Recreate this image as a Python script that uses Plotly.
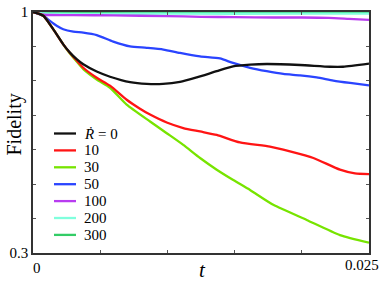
import plotly.graph_objects as go

# ---- data ----
t_black = [0, 0.00077, 0.00126, 0.00176, 0.00225, 0.00275, 0.00325, 0.00374, 0.00474, 0.00573,
           0.00722, 0.00846, 0.00967, 0.01094, 0.01218, 0.01367, 0.01488, 0.01615, 0.01739,
           0.01987, 0.0221, 0.02307, 0.025]
f_black = [1.0, 0.989, 0.964, 0.935, 0.906, 0.882, 0.863, 0.848, 0.827, 0.812,
           0.796, 0.791, 0.791, 0.797, 0.810, 0.828, 0.842, 0.847, 0.849,
           0.846, 0.841, 0.841, 0.850]

t_red = [0, 0.00077, 0.00126, 0.00176, 0.00225, 0.00275, 0.00325, 0.00374, 0.00474, 0.00573,
         0.00697, 0.00796, 0.00871, 0.00995, 0.01118, 0.01243, 0.01367, 0.0154, 0.01763,
         0.01912, 0.02086, 0.02284, 0.02396, 0.025]
f_red = [1.0, 0.989, 0.964, 0.935, 0.906, 0.881, 0.859, 0.838, 0.809, 0.786,
         0.745, 0.719, 0.702, 0.679, 0.663, 0.653, 0.643, 0.621, 0.609,
         0.595, 0.576, 0.542, 0.531, 0.529]

t_lime = [0, 0.00077, 0.00126, 0.00176, 0.00225, 0.00275, 0.00325, 0.00374, 0.00474, 0.00573,
          0.00697, 0.00871, 0.00995, 0.01118, 0.01243, 0.01367, 0.0149, 0.01615, 0.01788,
          0.02036, 0.02284, 0.025]
f_lime = [1.0, 0.989, 0.964, 0.935, 0.906, 0.879, 0.856, 0.834, 0.804, 0.780,
          0.731, 0.682, 0.648, 0.614, 0.576, 0.542, 0.512, 0.483, 0.440,
          0.396, 0.352, 0.330]

t_blue = [0, 0.00077, 0.00126, 0.00176, 0.00225, 0.003, 0.00374, 0.00474, 0.00597, 0.00722,
          0.00846, 0.0097, 0.01094, 0.01243, 0.01391, 0.01488, 0.01615, 0.01739, 0.01862,
          0.01987, 0.02111, 0.02234, 0.02359, 0.025]
f_blue = [1.0, 0.989, 0.974, 0.960, 0.950, 0.943, 0.940, 0.933, 0.914, 0.900,
          0.896, 0.891, 0.881, 0.871, 0.865, 0.852, 0.838, 0.828, 0.820,
          0.816, 0.810, 0.801, 0.794, 0.787]

t_purple = [0, 0.0008, 0.003, 0.006, 0.01, 0.0125, 0.015, 0.018, 0.02, 0.022, 0.0235, 0.025]
f_purple = [1.0, 0.992, 0.991, 0.990, 0.988, 0.986, 0.985, 0.984, 0.984, 0.983, 0.980, 0.977]

t_cyan = [0, 0.0008, 0.01, 0.02, 0.025]
f_cyan = [1.0, 0.996, 0.995, 0.995, 0.995]

t_green = [0, 0.0008, 0.01, 0.02, 0.025]
f_green = [1.0, 0.999, 0.999, 0.999, 0.999]

series_names = ["<i>Ṙ</i> = 0", "10", "30", "50", "100", "200", "300"]
series_colors = ["#111111", "#ff1414", "#77e400", "#2a44ff", "#b83cf0", "#80ffdd", "#33cc66"]

NB = "\u00a0"
x_tickvals = [0, 0.005, 0.01, 0.015, 0.02, 0.025]
x_ticktext = [NB * 2 + "0", "", "", "", "", ""]
x_end_label = "0.025"
y_tickvals = [0.3, 0.4, 0.5, 0.6, 0.7, 0.8, 0.9, 1.0]
y_ticktext = ["0.3", "", "", "", "", "", "", "1"]

x_title = "<i>t</i>"
y_title = "Fidelity"

series_t = [t_black, t_red, t_lime, t_blue, t_purple, t_cyan, t_green]
series_f = [f_black, f_red, f_lime, f_blue, f_purple, f_cyan, f_green]

W, H = 382, 287
ML, MR, MT, MB = 33, 13, 12, 34
PW, PH = W - ML - MR, H - MT - MB

def px_to_paper_x(px):
    return (px - ML) / PW

def px_to_paper_y(py):
    return (H - MB - py) / PH

fig = go.Figure()
order = [6, 5, 4, 3, 2, 1, 0]
for i in order:
    fig.add_trace(go.Scatter(
        x=series_t[i], y=series_f[i], mode="lines", name=series_names[i],
        line=dict(color=series_colors[i], width=2.3, shape="spline", smoothing=0.6),
        showlegend=False,
    ))

font_family = "Liberation Serif, Times New Roman, serif"

# manual legend (sample lines + labels)
shapes = []
annotations = []
for i, (name, col) in enumerate(zip(series_names, series_colors)):
    yy = px_to_paper_y(133.5 + 16.9 * i)
    shapes.append(dict(type="line", xref="paper", yref="paper",
                       x0=px_to_paper_x(54), x1=px_to_paper_x(76), y0=yy, y1=yy,
                       line=dict(color=col, width=2.3)))
    annotations.append(dict(text=name, xref="paper", yref="paper",
                            x=px_to_paper_x(82), y=yy, xanchor="left", yanchor="middle",
                            showarrow=False, font=dict(family=font_family, size=15, color="black")))

annotations.append(dict(text=y_title, xref="paper", yref="paper",
                        x=px_to_paper_x(13.5), y=px_to_paper_y(125), textangle=-90,
                        xanchor="center", yanchor="middle", showarrow=False,
                        font=dict(family=font_family, size=20, color="black")))
annotations.append(dict(text=x_title, xref="paper", yref="paper",
                        x=px_to_paper_x(202), y=px_to_paper_y(270),
                        xanchor="center", yanchor="middle", showarrow=False,
                        font=dict(family=font_family, size=21, color="black")))
# last x tick label, right-aligned so it stays inside the figure
annotations.append(dict(text=x_end_label, xref="x", yref="paper",
                        x=x_tickvals[-1], y=0, xanchor="right", yanchor="top",
                        xshift=12, yshift=-2, showarrow=False,
                        font=dict(family=font_family, size=15, color="black")))

fig.update_layout(
    width=W, height=H,
    margin=dict(l=ML, r=MR, t=MT, b=MB),
    paper_bgcolor="white", plot_bgcolor="white",
    font=dict(family=font_family, size=15, color="black"),
    showlegend=False,
    shapes=shapes, annotations=annotations,
    xaxis=dict(
        range=[0, 0.025], tickvals=x_tickvals, ticktext=x_ticktext,
        ticks="inside", ticklen=3, tickcolor="#555", tickwidth=1,
        showline=True, linecolor="#333", linewidth=1.5, mirror="ticks",
        showgrid=False, zeroline=False, automargin=False,
        tickfont=dict(size=15, family=font_family),
    ),
    yaxis=dict(
        range=[0.3, 1.0], tickvals=y_tickvals, ticktext=y_ticktext,
        ticks="inside", ticklen=3, tickcolor="#555", tickwidth=1,
        showline=True, linecolor="#333", linewidth=1.5, mirror="ticks",
        showgrid=False, zeroline=False, automargin=False,
        tickfont=dict(size=15, family=font_family),
    ),
)

fig.write_html("out.html", config={"displayModeBar": False},
               post_script="document.body.style.margin='0';document.body.style.padding='0';")
